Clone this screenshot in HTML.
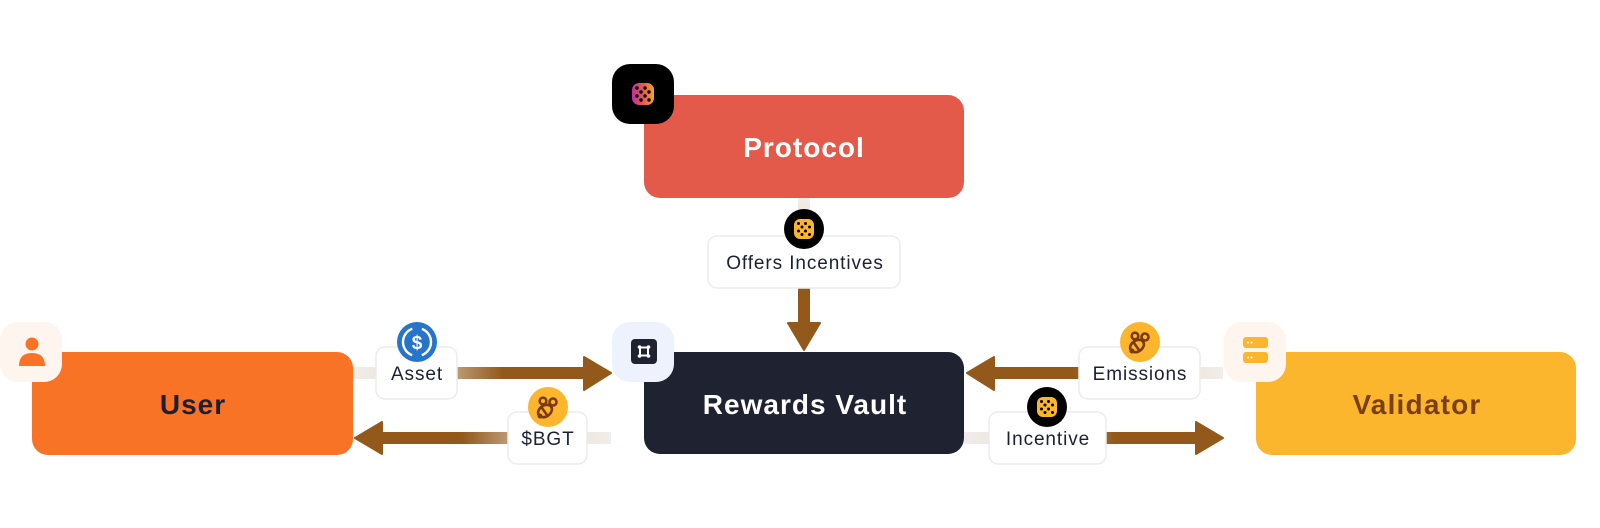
<!DOCTYPE html>
<html><head><meta charset="utf-8"><style>
html,body{margin:0;padding:0;background:#fff;}
svg{display:block;}
text{font-family:"Liberation Sans",sans-serif;}
</style></head><body>
<svg width="1600" height="528" viewBox="0 0 1600 528" xmlns="http://www.w3.org/2000/svg">
<defs>
 <linearGradient id="gA" gradientUnits="userSpaceOnUse" x1="353" y1="0" x2="611" y2="0">
  <stop offset="0" stop-color="#f1ede9"/><stop offset="0.2" stop-color="#ebe2d9"/><stop offset="0.58" stop-color="#93591B"/><stop offset="1" stop-color="#93591B"/>
 </linearGradient>
 <linearGradient id="gB" gradientUnits="userSpaceOnUse" x1="611" y1="0" x2="355" y2="0">
  <stop offset="0" stop-color="#f1ede9"/><stop offset="0.2" stop-color="#ebe2d9"/><stop offset="0.58" stop-color="#93591B"/><stop offset="1" stop-color="#93591B"/>
 </linearGradient>
 <linearGradient id="gE" gradientUnits="userSpaceOnUse" x1="1223" y1="0" x2="967" y2="0">
  <stop offset="0" stop-color="#f1ede9"/><stop offset="0.2" stop-color="#ebe2d9"/><stop offset="0.58" stop-color="#93591B"/><stop offset="1" stop-color="#93591B"/>
 </linearGradient>
 <linearGradient id="gI" gradientUnits="userSpaceOnUse" x1="964" y1="0" x2="1223" y2="0">
  <stop offset="0" stop-color="#f1ede9"/><stop offset="0.2" stop-color="#ebe2d9"/><stop offset="0.58" stop-color="#93591B"/><stop offset="1" stop-color="#93591B"/>
 </linearGradient>
 <linearGradient id="gO" gradientUnits="userSpaceOnUse" x1="0" y1="198" x2="0" y2="351">
  <stop offset="0" stop-color="#f1ede9"/><stop offset="0.2" stop-color="#ebe2d9"/><stop offset="0.58" stop-color="#93591B"/><stop offset="1" stop-color="#93591B"/>
 </linearGradient>
 <linearGradient id="gP" x1="0" y1="0" x2="1" y2="0">
  <stop offset="0" stop-color="#C02F9E"/><stop offset="0.5" stop-color="#E4584F"/><stop offset="1" stop-color="#F6A623"/>
 </linearGradient>
</defs>

<!-- connectors -->
<rect x="353" y="367" width="233" height="12" fill="url(#gA)"/>
<polygon points="584,357 611,373 584,390" fill="#93591B" stroke="#93591B" stroke-width="2" stroke-linejoin="round"/>

<rect x="380" y="432" width="231" height="12" fill="url(#gB)"/>
<polygon points="382,422 355,438 382,454" fill="#93591B" stroke="#93591B" stroke-width="2" stroke-linejoin="round"/>

<rect x="992" y="367" width="231" height="12" fill="url(#gE)"/>
<polygon points="994,357 967,373 994,390" fill="#93591B" stroke="#93591B" stroke-width="2" stroke-linejoin="round"/>

<rect x="964" y="432" width="234" height="12" fill="url(#gI)"/>
<polygon points="1196,422 1223,438 1196,454" fill="#93591B" stroke="#93591B" stroke-width="2" stroke-linejoin="round"/>

<rect x="798" y="198" width="12" height="126" fill="url(#gO)"/>
<polygon points="788,323 804,350 820,323" fill="#93591B" stroke="#93591B" stroke-width="2" stroke-linejoin="round"/>

<!-- main boxes -->
<rect x="644" y="95" width="320" height="103" rx="16" fill="#E45A4A"/>
<text x="804" y="157" text-anchor="middle" font-size="28" font-weight="bold" fill="#ffffff" letter-spacing="1">Protocol</text>

<rect x="32" y="352" width="321" height="103" rx="16" fill="#F97326"/>
<text x="193" y="414" text-anchor="middle" font-size="28" font-weight="bold" fill="#1B2132" letter-spacing="1">User</text>

<rect x="644" y="352" width="320" height="102" rx="16" fill="#1F2230"/>
<text x="805" y="414" text-anchor="middle" font-size="28" font-weight="bold" fill="#ffffff" letter-spacing="1">Rewards Vault</text>

<rect x="1256" y="352" width="320" height="103" rx="16" fill="#FBB62E"/>
<text x="1417" y="414" text-anchor="middle" font-size="28" font-weight="bold" fill="#7B3F14" letter-spacing="1.2">Validator</text>

<!-- badges -->
<rect x="612" y="64" width="62" height="60" rx="18" fill="#000"/>
<rect x="632" y="83" width="22" height="22" rx="7" fill="url(#gP)"/>
<g fill="#000">
 <circle cx="637" cy="88" r="1.7"/><circle cx="645" cy="88" r="1.7"/>
 <circle cx="641" cy="92" r="1.7"/><circle cx="649" cy="92" r="1.7"/>
 <circle cx="637" cy="96" r="1.7"/><circle cx="645" cy="96" r="1.7"/>
 <circle cx="641" cy="100" r="1.7"/><circle cx="649" cy="100" r="1.7"/>
</g>

<rect x="0" y="322" width="62" height="60" rx="18" fill="#FDF5EE"/>
<circle cx="32" cy="344" r="6.5" fill="#F97326"/>
<path d="M19 366 Q19 353 32 353 Q45 353 45 366 Z" fill="#F97326"/>

<rect x="612" y="322" width="62" height="60" rx="18" fill="#EEF2FC"/>
<rect x="631" y="339" width="26" height="25" rx="4" fill="#1F2230"/>
<rect x="640" y="347.5" width="8" height="8" fill="none" stroke="#fff" stroke-width="2"/>
<g fill="#fff"><circle cx="639.5" cy="347" r="1.8"/><circle cx="648.5" cy="347" r="1.8"/><circle cx="639.5" cy="356" r="1.8"/><circle cx="648.5" cy="356" r="1.8"/></g>

<rect x="1224" y="322" width="62" height="60" rx="18" fill="#FDF5EE"/>
<rect x="1243" y="337" width="25" height="11" rx="3" fill="#FBB62E"/>
<rect x="1243" y="352" width="25" height="11" rx="3" fill="#FBB62E"/>
<g fill="#fff"><circle cx="1248" cy="342.5" r="1"/><circle cx="1251.5" cy="342.5" r="1"/><circle cx="1248" cy="357.5" r="1"/><circle cx="1251.5" cy="357.5" r="1"/></g>

<!-- labels -->
<g fill="#fff" stroke="#ECECEC" stroke-width="1.5">
 <rect x="708" y="236" width="192" height="52" rx="9"/>
 <rect x="376" y="347" width="81" height="52" rx="9"/>
 <rect x="508" y="412" width="79" height="52" rx="9"/>
 <rect x="1079" y="347" width="121" height="52" rx="9"/>
 <rect x="989" y="412" width="117" height="52" rx="9"/>
</g>
<g font-size="19" fill="#1B2132" text-anchor="middle" letter-spacing="0.9">
 <text x="805" y="269">Offers Incentives</text>
 <text x="417" y="380">Asset</text>
 <text x="548" y="445">$BGT</text>
 <text x="1140" y="380">Emissions</text>
 <text x="1048" y="445">Incentive</text>
</g>

<!-- circle icons: protocol pattern -->
<g>
 <circle cx="804" cy="229" r="20" fill="#000"/>
 <rect x="794" y="219" width="20" height="20" rx="6" fill="#FBB62E"/>
 <g fill="#000">
  <circle cx="798.5" cy="223.5" r="1.5"/><circle cx="805.5" cy="223.5" r="1.5"/>
  <circle cx="802" cy="227" r="1.5"/><circle cx="809.5" cy="227" r="1.5"/>
  <circle cx="798.5" cy="231" r="1.5"/><circle cx="805.5" cy="231" r="1.5"/>
  <circle cx="802" cy="234.5" r="1.5"/><circle cx="809.5" cy="234.5" r="1.5"/>
 </g>
</g>
<g>
 <circle cx="1047" cy="407" r="20" fill="#000"/>
 <rect x="1037" y="397" width="20" height="20" rx="6" fill="#FBB62E"/>
 <g fill="#000">
  <circle cx="1041.5" cy="401.5" r="1.5"/><circle cx="1048.5" cy="401.5" r="1.5"/>
  <circle cx="1045" cy="405" r="1.5"/><circle cx="1052.5" cy="405" r="1.5"/>
  <circle cx="1041.5" cy="409" r="1.5"/><circle cx="1048.5" cy="409" r="1.5"/>
  <circle cx="1045" cy="412.5" r="1.5"/><circle cx="1052.5" cy="412.5" r="1.5"/>
 </g>
</g>

<!-- USDC -->
<circle cx="417" cy="342" r="20" fill="#2775CA"/>
<circle cx="417" cy="342" r="14" fill="none" stroke="#fff" stroke-width="2.4" stroke-dasharray="17.1 9.8 34.2 9.8 17.1 0"/>
<text x="417" y="349" text-anchor="middle" font-size="19" font-weight="bold" fill="#fff">$</text>

<!-- bees -->
<g>
 <circle cx="548" cy="407" r="20" fill="#FBB62E"/>
 <g fill="none" stroke="#7B3A12" stroke-width="2.6" stroke-linecap="round">
  <ellipse cx="545" cy="411" rx="7.5" ry="5.5" transform="rotate(-35 545 411)"/>
  <circle cx="553" cy="402" r="3.5"/>
  <circle cx="543" cy="401" r="3.3"/>
  <line x1="542" y1="408" x2="547" y2="415"/>
 </g>
 <circle cx="540" cy="416" r="2.5" fill="#7B3A12"/>
</g>
<g>
 <circle cx="1140" cy="342" r="20" fill="#FBB62E"/>
 <g fill="none" stroke="#7B3A12" stroke-width="2.6" stroke-linecap="round">
  <ellipse cx="1137" cy="346" rx="7.5" ry="5.5" transform="rotate(-35 1137 346)"/>
  <circle cx="1145" cy="337" r="3.5"/>
  <circle cx="1135" cy="336" r="3.3"/>
  <line x1="1134" y1="343" x2="1139" y2="350"/>
 </g>
 <circle cx="1132" cy="351" r="2.5" fill="#7B3A12"/>
</g>
</svg>
</body></html>
